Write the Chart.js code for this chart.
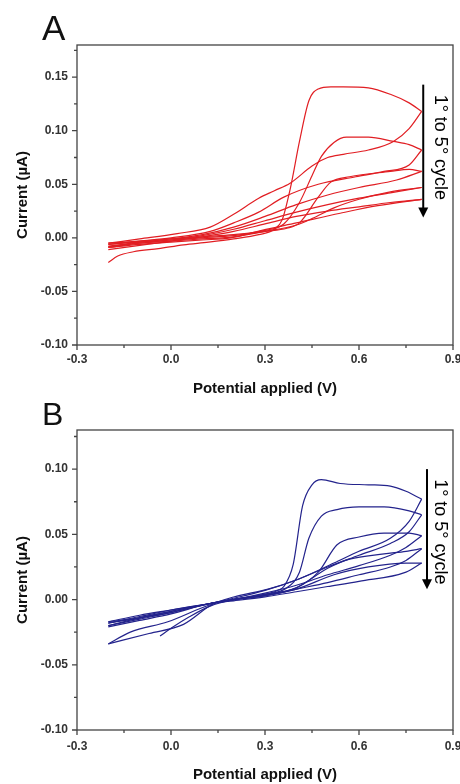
<!DOCTYPE html>
<html>
<head>
<meta charset="utf-8">
<script src="https://cdn.jsdelivr.net/npm/chart.js@4.4.1/dist/chart.umd.min.js"></script>
<style>
  body { margin: 0; background: #fff; width: 460px; height: 784px; overflow: hidden; }
  canvas { position: absolute; left: 0; }
  #chartA { top: 0; }
  #chartB { top: 400px; }
</style>
</head>
<body>
<canvas id="chartA" width="460" height="400"></canvas>
<canvas id="chartB" width="460" height="384"></canvas>
<script>
// tick values
const xTicks = [-0.3, 0.0, 0.3, 0.6, 0.9];
const xMinor = [-0.15, 0.15, 0.45, 0.75];
const yTicksA = [-0.10, -0.05, 0.00, 0.05, 0.10, 0.15];
const yMinorA = [-0.075, -0.025, 0.025, 0.075, 0.125, 0.175];
const yTicksB = [-0.10, -0.05, 0.00, 0.05, 0.10];
const yMinorB = [-0.075, -0.025, 0.025, 0.075, 0.125];

// panel A: [potential V, current uA], forward and reverse scan of each cycle
const fwdA1 = [[-0.20,-0.023],[-0.17,-0.017],[-0.12,-0.013],[-0.04,-0.010],[0.04,-0.0065],[0.12,-0.004],[0.20,-0.001],[0.28,0.003],[0.33,0.008],[0.355,0.017],[0.38,0.045],[0.41,0.090],[0.44,0.128],[0.47,0.139],[0.51,0.141],[0.55,0.141],[0.63,0.140],[0.70,0.134],[0.76,0.126],[0.80,0.118]];
const revA1 = [[0.80,0.118],[0.76,0.102],[0.71,0.090],[0.63,0.082],[0.55,0.078],[0.50,0.075],[0.45,0.067],[0.38,0.051],[0.33,0.044],[0.28,0.037],[0.20,0.022],[0.125,0.010],[0.02,0.004],[-0.10,-0.001],[-0.20,-0.005]];
const fwdA2 = [[-0.20,-0.005],[-0.10,-0.003],[0.00,-0.001],[0.10,0.001],[0.20,0.003],[0.30,0.007],[0.36,0.013],[0.41,0.033],[0.45,0.058],[0.48,0.076],[0.52,0.089],[0.56,0.094],[0.63,0.094],[0.71,0.090],[0.76,0.087],[0.80,0.082]];
const revA2 = [[0.80,0.082],[0.76,0.068],[0.68,0.062],[0.59,0.057],[0.47,0.050],[0.36,0.038],[0.28,0.024],[0.20,0.014],[0.125,0.006],[0.00,0.000],[-0.10,-0.003],[-0.20,-0.006]];
const fwdA3 = [[-0.20,-0.006],[-0.10,-0.004],[0.00,-0.002],[0.10,0.000],[0.20,0.002],[0.30,0.006],[0.37,0.009],[0.41,0.014],[0.47,0.038],[0.51,0.052],[0.57,0.057],[0.70,0.062],[0.76,0.064],[0.80,0.062]];
const revA3 = [[0.80,0.062],[0.72,0.054],[0.60,0.047],[0.50,0.040],[0.40,0.031],[0.30,0.020],[0.20,0.010],[0.10,0.003],[0.00,-0.001],[-0.10,-0.004],[-0.20,-0.008]];
const fwdA4 = [[-0.20,-0.008],[-0.10,-0.005],[0.00,-0.003],[0.10,-0.001],[0.20,0.001],[0.30,0.006],[0.40,0.012],[0.45,0.018],[0.52,0.028],[0.60,0.036],[0.70,0.043],[0.80,0.047]];
const revA4 = [[0.80,0.047],[0.70,0.042],[0.60,0.037],[0.50,0.031],[0.40,0.024],[0.30,0.016],[0.20,0.008],[0.10,0.002],[0.00,-0.002],[-0.10,-0.005],[-0.20,-0.009]];
const fwdA5 = [[-0.20,-0.009],[-0.10,-0.006],[0.00,-0.004],[0.10,-0.002],[0.19,0.000],[0.29,0.007],[0.40,0.014],[0.54,0.023],[0.66,0.030],[0.80,0.036]];
const revA5 = [[0.80,0.036],[0.70,0.033],[0.60,0.029],[0.50,0.025],[0.40,0.020],[0.30,0.013],[0.20,0.006],[0.10,0.001],[0.00,-0.003],[-0.10,-0.007],[-0.20,-0.011]];

// panel B
const fwdB1 = [[-0.035,-0.028],[0.00,-0.022],[0.06,-0.013],[0.125,-0.005],[0.20,0.000],[0.30,0.004],[0.34,0.007],[0.36,0.010],[0.39,0.027],[0.42,0.072],[0.45,0.088],[0.48,0.092],[0.54,0.089],[0.63,0.088],[0.70,0.087],[0.75,0.083],[0.80,0.077]];
const revB1 = [[0.80,0.077],[0.76,0.060],[0.70,0.047],[0.60,0.037],[0.52,0.028],[0.41,0.016],[0.31,0.008],[0.20,0.002],[0.13,-0.004],[0.04,-0.019],[-0.07,-0.026],[-0.20,-0.034]];
const fwdB2 = [[-0.20,-0.034],[-0.13,-0.025],[-0.01,-0.017],[0.125,-0.004],[0.20,0.000],[0.30,0.004],[0.37,0.009],[0.41,0.021],[0.44,0.047],[0.48,0.064],[0.53,0.069],[0.60,0.071],[0.68,0.071],[0.76,0.068],[0.80,0.065]];
const revB2 = [[0.80,0.065],[0.76,0.052],[0.70,0.043],[0.60,0.034],[0.50,0.025],[0.40,0.015],[0.30,0.007],[0.20,0.001],[0.125,-0.003],[0.00,-0.010],[-0.10,-0.014],[-0.20,-0.017]];
const fwdB3 = [[-0.20,-0.017],[-0.10,-0.012],[0.00,-0.008],[0.125,-0.003],[0.20,0.000],[0.30,0.004],[0.40,0.009],[0.47,0.021],[0.53,0.042],[0.60,0.048],[0.68,0.051],[0.76,0.051],[0.80,0.049]];
const revB3 = [[0.80,0.049],[0.75,0.040],[0.70,0.034],[0.60,0.026],[0.50,0.019],[0.40,0.011],[0.30,0.005],[0.20,0.000],[0.125,-0.003],[0.00,-0.009],[-0.10,-0.014],[-0.20,-0.018]];
const fwdB4 = [[-0.20,-0.018],[-0.10,-0.013],[0.00,-0.008],[0.125,-0.003],[0.20,0.000],[0.30,0.003],[0.40,0.009],[0.50,0.024],[0.57,0.031],[0.68,0.035],[0.75,0.037],[0.80,0.039]];
const revB4 = [[0.80,0.039],[0.75,0.030],[0.70,0.025],[0.60,0.019],[0.50,0.013],[0.40,0.008],[0.30,0.003],[0.20,0.000],[0.125,-0.003],[0.00,-0.010],[-0.10,-0.015],[-0.20,-0.020]];
const fwdB5 = [[-0.20,-0.020],[-0.10,-0.014],[0.00,-0.009],[0.125,-0.003],[0.20,0.000],[0.30,0.003],[0.40,0.008],[0.52,0.019],[0.63,0.025],[0.75,0.028],[0.80,0.028]];
const revB5 = [[0.80,0.028],[0.75,0.021],[0.60,0.014],[0.50,0.010],[0.40,0.006],[0.30,0.002],[0.20,-0.001],[0.125,-0.003],[0.00,-0.011],[-0.10,-0.016],[-0.20,-0.021]];

const scansA = [fwdA1, revA1, fwdA2, revA2, fwdA3, revA3, fwdA4, revA4, fwdA5, revA5];
const scansB = [fwdB1, revB1, fwdB2, revB2, fwdB3, revB3, fwdB4, revB4, fwdB5, revB5];

const FONT = '"Liberation Sans", Arial, sans-serif';

// box frame, outward ticks, cycle arrow, panel letter
const framePlugin = {
  id: 'frame',
  afterDatasetsDraw(chart, args, opts) {
    const { ctx, chartArea: a, scales: { x, y } } = chart;
    ctx.save();
    ctx.strokeStyle = '#444';
    ctx.lineWidth = 1.3;
    ctx.strokeRect(a.left, a.top, a.right - a.left, a.bottom - a.top);

    ctx.beginPath();
    xTicks.forEach((v) => {
      const px = x.getPixelForValue(v);
      ctx.moveTo(px, a.bottom);
      ctx.lineTo(px, a.bottom + 5);
    });
    xMinor.forEach((v) => {
      const px = x.getPixelForValue(v);
      ctx.moveTo(px, a.bottom);
      ctx.lineTo(px, a.bottom + 3);
    });
    opts.yMajor.forEach((v) => {
      const py = y.getPixelForValue(v);
      ctx.moveTo(a.left, py);
      ctx.lineTo(a.left - 5, py);
    });
    opts.yMinor.forEach((v) => {
      const py = y.getPixelForValue(v);
      ctx.moveTo(a.left, py);
      ctx.lineTo(a.left - 3, py);
    });
    ctx.stroke();

    // arrow
    const ax = x.getPixelForValue(opts.arrowX);
    const top = y.getPixelForValue(opts.arrowTop);
    const tip = y.getPixelForValue(opts.arrowTip);
    ctx.strokeStyle = '#000';
    ctx.fillStyle = '#000';
    ctx.lineWidth = 2;
    ctx.beginPath();
    ctx.moveTo(ax, top);
    ctx.lineTo(ax, tip - 8);
    ctx.stroke();
    ctx.beginPath();
    ctx.moveTo(ax - 5, tip - 10);
    ctx.lineTo(ax + 5, tip - 10);
    ctx.lineTo(ax, tip);
    ctx.closePath();
    ctx.fill();

    ctx.save();
    ctx.translate(a.right - 13, top + 10);
    ctx.rotate(Math.PI / 2);
    ctx.font = '18px ' + FONT;
    ctx.textBaseline = 'middle';
    ctx.textAlign = 'left';
    ctx.fillText('1° to 5° cycle', 0, 0);
    ctx.restore();

    ctx.fillStyle = '#111';
    ctx.font = opts.letterSize + 'px ' + FONT;
    ctx.textBaseline = 'alphabetic';
    ctx.fillText(opts.letter, 42, opts.letterY);
    ctx.restore();
  },
};

function makeChart(id, scans, color, yMin, yMax, yMajor, extra) {
  const ctx = document.getElementById(id).getContext('2d');
  return new Chart(ctx, {
    type: 'scatter',
    data: {
      datasets: scans.map((pts) => ({
        data: pts.map(([vx, vy]) => ({ x: vx, y: vy })),
        showLine: true,
        borderColor: color,
        borderWidth: 1.2,
        pointRadius: 0,
        fill: false,
        cubicInterpolationMode: 'monotone',
      })),
    },
    plugins: [framePlugin],
    options: {
      responsive: false,
      animation: false,
      devicePixelRatio: 1,
      layout: { padding: { top: extra.padTop, right: 7, left: 0, bottom: 0 } },
      plugins: {
        legend: { display: false },
        tooltip: { enabled: false },
        frame: { yMajor, ...extra },
      },
      scales: {
        x: {
          type: 'linear',
          min: -0.3,
          max: 0.9,
          afterBuildTicks(scale) { scale.ticks = xTicks.map((v) => ({ value: v })); },
          afterFit(scale) {
            scale.height = extra.xHeight;
            scale.paddingLeft = 0;
            scale.paddingRight = 0;
          },
          ticks: {
            callback: (v) => v.toFixed(1),
            font: { family: FONT, size: 12, weight: 'bold' },
            color: '#333',
            padding: extra.xPad,
            maxRotation: 0,
            autoSkip: false,
          },
          grid: { display: false, drawTicks: false },
          border: { display: false },
          title: {
            display: true,
            text: 'Potential applied (V)',
            font: { family: FONT, size: 15, weight: 'bold' },
            color: '#111',
            padding: { top: 0, bottom: extra.xTitlePad },
          },
        },
        y: {
          type: 'linear',
          min: yMin,
          max: yMax,
          afterBuildTicks(scale) { scale.ticks = yMajor.map((v) => ({ value: v })); },
          afterFit(scale) {
            scale.width = 77;
            scale.paddingTop = 0;
            scale.paddingBottom = 0;
          },
          ticks: {
            callback: (v) => v.toFixed(2),
            font: { family: FONT, size: 12, weight: 'bold' },
            color: '#333',
            padding: 9,
          },
          grid: { display: false, drawTicks: false },
          border: { display: false },
          title: {
            display: true,
            text: 'Current (µA)',
            font: { family: FONT, size: 15, weight: 'bold' },
            color: '#111',
            padding: { top: 14, bottom: 0 },
          },
        },
      },
    },
  });
}

makeChart('chartA', scansA, 'rgb(225,30,35)', -0.10, 0.18, yTicksA, {
  yMinor: yMinorA, arrowX: 0.805, arrowTop: 0.143, arrowTip: 0.019,
  letter: 'A', letterSize: 35, letterY: 40,
  padTop: 45, xHeight: 55, xPad: 7, xTitlePad: 2,
});
makeChart('chartB', scansB, 'rgb(35,35,140)', -0.10, 0.13, yTicksB, {
  yMinor: yMinorB, arrowX: 0.817, arrowTop: 0.100, arrowTip: 0.008,
  letter: 'B', letterSize: 32, letterY: 25,
  padTop: 30, xHeight: 54, xPad: 9, xTitlePad: 0,
});
</script>
</body>
</html>
